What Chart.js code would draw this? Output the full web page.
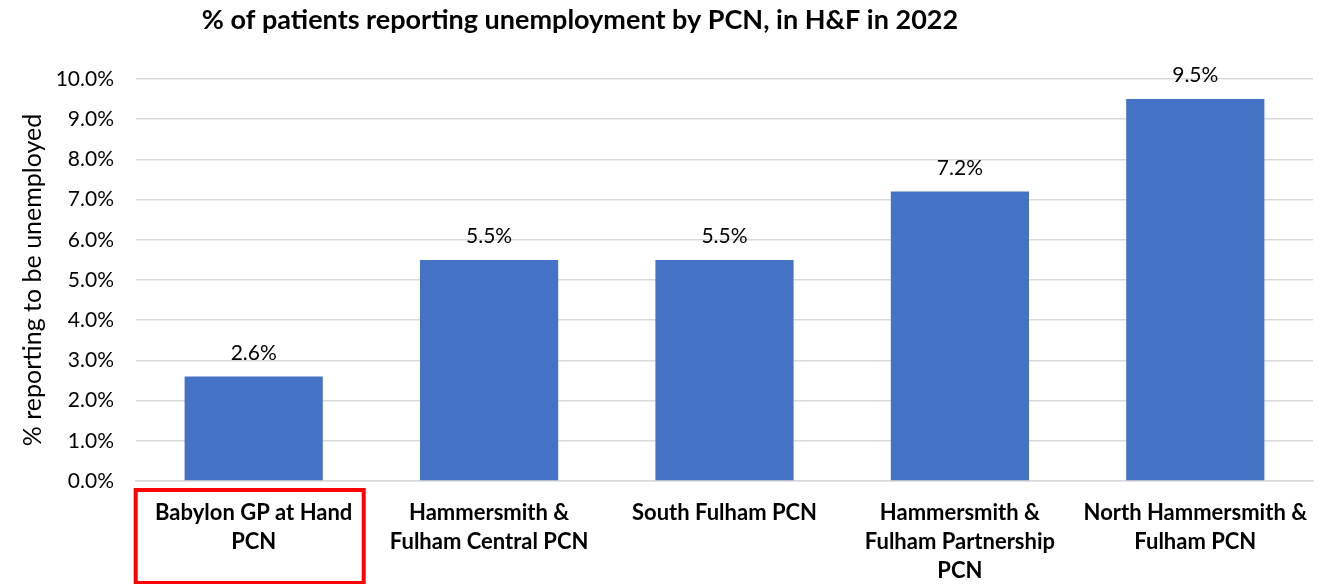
<!DOCTYPE html>
<html lang="en">
<head>
  <meta charset="UTF-8">
  <title>% of patients reporting unemployment by PCN</title>
  <script src="https://cdn.jsdelivr.net/npm/chart.js"></script>
  <style>
    body { margin: 0; background: #fff; }
  </style>
</head>
<body>
<canvas id="pcnChart" width="1337" height="584"></canvas>

<script>
  const chartTitle = '% of patients reporting unemployment by PCN, in H&F in 2022';
  const axisTitle = '% reporting to be unemployed';
  const pcnLabels = [
    ['Babylon GP at Hand', 'PCN'],
    ['Hammersmith &', 'Fulham Central PCN'],
    ['South Fulham PCN'],
    ['Hammersmith &', 'Fulham Partnership', 'PCN'],
    ['North Hammersmith &', 'Fulham PCN']
  ];
  const unemployedPct = [2.6, 5.5, 5.5, 7.2, 9.5];
  const highlightIndex = 0;

  const FONT = "Lato, 'Open Sans', sans-serif";

  // title drawn by hand so it sits left of centre like the original
  const titlePlugin = {
    id: 'titleText',
    afterDraw(chart) {
      const c = chart.ctx;
      c.save();
      c.font = 'bold 27px ' + FONT;
      c.fillStyle = '#000';
      c.textAlign = 'center';
      c.textBaseline = 'middle';
      c.fillText(chartTitle, 580, 20);
      c.restore();
    }
  };

  const valueLabels = {
    id: 'valueLabels',
    afterDatasetsDraw(chart) {
      const c = chart.ctx;
      const meta = chart.getDatasetMeta(0);
      c.save();
      c.font = '21px ' + FONT;
      c.fillStyle = '#000';
      c.textAlign = 'center';
      c.textBaseline = 'bottom';
      meta.data.forEach((bar, i) => {
        c.fillText(unemployedPct[i].toFixed(1) + '%', bar.x, bar.y - 13);
      });
      c.restore();
    }
  };

  const highlightBox = {
    id: 'highlightBox',
    afterDraw(chart) {
      const x = chart.scales.x;
      const cx = x.getPixelForValue(highlightIndex);
      const c = chart.ctx;
      c.save();
      c.strokeStyle = '#ff0000';
      c.lineWidth = 4;
      c.strokeRect(cx - 118, x.top + 9, 228, 93);
      c.restore();
    }
  };

  new Chart(document.getElementById('pcnChart'), {
    type: 'bar',
    data: {
      labels: pcnLabels,
      datasets: [{
        data: unemployedPct,
        backgroundColor: '#4472C4',
        categoryPercentage: 1,
        barPercentage: 0.587
      }]
    },
    options: {
      responsive: false,
      animation: false,
      layout: { padding: { top: 79, right: 24, bottom: 0, left: 0 } },
      plugins: {
        legend: { display: false },
        tooltip: { enabled: false }
      },
      scales: {
        x: {
          grid: { display: false, drawTicks: false },
          border: { color: '#d9d9d9', width: 1.5 },
          ticks: {
            color: '#000',
            padding: 17,
            maxRotation: 0,
            autoSkip: false,
            font: { family: FONT, size: 22, weight: 'bold', lineHeight: 1.32 }
          },
          afterFit(scale) { scale.height = 103; }
        },
        y: {
          min: 0,
          max: 10,
          grid: { color: '#d9d9d9', lineWidth: 1.5, drawTicks: false },
          border: { display: false },
          ticks: {
            stepSize: 1,
            color: '#000',
            padding: 22,
            font: { family: FONT, size: 21 },
            callback: v => v.toFixed(1) + '%'
          },
          title: {
            display: true,
            text: axisTitle,
            color: '#000',
            padding: { top: 18, bottom: 0 },
            font: { family: FONT, size: 25 }
          },
          afterFit(scale) { scale.width = 136; }
        }
      }
    },
    plugins: [titlePlugin, valueLabels, highlightBox]
  });
</script>
</body>
</html>
